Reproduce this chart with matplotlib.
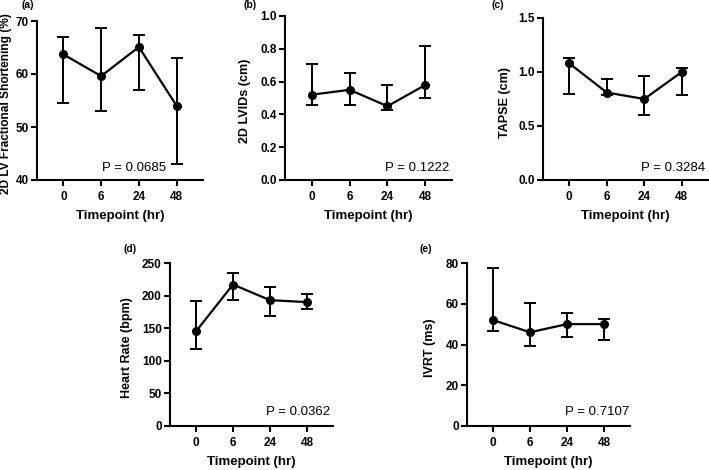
import matplotlib.pyplot as plt
import numpy as np

plt.rcParams['font.family'] = ['Liberation Sans', 'DejaVu Sans']

timepoints = ['0', '6', '24', '48']

fs_mid = [63.7, 59.6, 65.1, 54.0]
fs_hi = [67.0, 68.7, 67.3, 63.0]
fs_lo = [54.5, 53.0, 57.0, 43.0]

lvids_mid = [0.52, 0.55, 0.45, 0.58]
lvids_hi = [0.71, 0.655, 0.58, 0.815]
lvids_lo = [0.455, 0.46, 0.425, 0.50]

tapse_mid = [1.08, 0.81, 0.75, 1.00]
tapse_hi = [1.13, 0.935, 0.965, 1.035]
tapse_lo = [0.80, 0.79, 0.60, 0.79]

hr_mid = [145, 217, 193, 190]
hr_hi = [192, 234, 213, 202]
hr_lo = [118, 193, 168, 180]

ivrt_mid = [52, 46, 50, 50]
ivrt_hi = [77.5, 60.5, 55.5, 52.5]
ivrt_lo = [46.5, 39.5, 43.5, 42]

panels = [
    ('(a)', '2D LV Fractional Shortening (%)', fs_mid, fs_hi, fs_lo,
     (40, 70), [40, 50, 60, 70], '{:.0f}', 'P = 0.0685'),
    ('(b)', '2D LVIDs (cm)', lvids_mid, lvids_hi, lvids_lo,
     (0, 1.0), [0, 0.2, 0.4, 0.6, 0.8, 1.0], '{:.1f}', 'P = 0.1222'),
    ('(c)', 'TAPSE (cm)', tapse_mid, tapse_hi, tapse_lo,
     (0, 1.5), [0, 0.5, 1.0, 1.5], '{:.1f}', 'P = 0.3284'),
    ('(d)', 'Heart Rate (bpm)', hr_mid, hr_hi, hr_lo,
     (0, 250), [0, 50, 100, 150, 200, 250], '{:.0f}', 'P = 0.0362'),
    ('(e)', 'IVRT (ms)', ivrt_mid, ivrt_hi, ivrt_lo,
     (0, 80), [0, 20, 40, 60, 80], '{:.0f}', 'P = 0.7107'),
]

W, H = 709, 470
# axes boxes in pixels: left, top, right, bottom
boxes = [(37, 21, 203, 180), (285, 16, 452, 180), (543, 18, 708, 180),
         (170, 263, 333, 426), (467, 263, 630, 426)]
# right edge of the rotated y label, in pixels
ylab_x = [12.5, 251, 511, 133, 436]
ylab_size = [8.6, 9, 9, 9, 9]
label_pos = [(22, 5), (243, 5), (492, 5), (123, 249), (420, 249)]
p_pos = [(166, 168), (449, 168), (705, 168), (330, 412), (629, 412)]

fig = plt.figure(figsize=(W / 100, H / 100), dpi=100)

for i, (tag, ylab, mid, hi, lo, ylim, yticks, fmt, ptxt) in enumerate(panels):
    l, t, r, b = boxes[i]
    ax = fig.add_axes([l / W, 1 - b / H, (r - l) / W, (b - t) / H])
    x = np.arange(len(timepoints))
    mid = np.array(mid)
    yerr = [mid - np.array(lo), np.array(hi) - mid]
    ax.errorbar(x, mid, yerr=yerr, color='black', lw=1.6, marker='o',
                ms=5.5, capsize=4, capthick=1.4, elinewidth=1.4, clip_on=False)
    ax.set_xlim(-0.7, 3.7)
    ax.set_ylim(*ylim)
    ax.set_yticks(yticks)
    ax.set_yticklabels([fmt.format(v) for v in yticks])
    ax.set_xticks(x)
    ax.set_xticklabels(timepoints)
    for s in ['top', 'right']:
        ax.spines[s].set_visible(False)
    for s in ['left', 'bottom']:
        ax.spines[s].set_linewidth(1.5)
    ax.tick_params(width=1.5, length=4, labelsize=8.5)
    ax.tick_params(axis='y', pad=2)
    ax.tick_params(axis='x', pad=4)
    for lb in ax.get_xticklabels() + ax.get_yticklabels():
        lb.set_fontweight('bold')
    ax.set_ylabel(ylab, fontsize=ylab_size[i], fontweight='bold')
    ax.yaxis.set_label_coords((ylab_x[i] - l) / (r - l), 0.48)
    ax.set_xlabel('Timepoint (hr)', fontsize=9.5, fontweight='bold', labelpad=5)
    px, py = p_pos[i]
    fig.text(px / W, 1 - py / H, ptxt, fontsize=9.5, ha='right', va='center')
    lx, ly = label_pos[i]
    fig.text(lx / W, 1 - ly / H, tag, fontsize=7.5, fontweight='bold',
             ha='left', va='center')

fig.savefig('out.png', dpi=100)
